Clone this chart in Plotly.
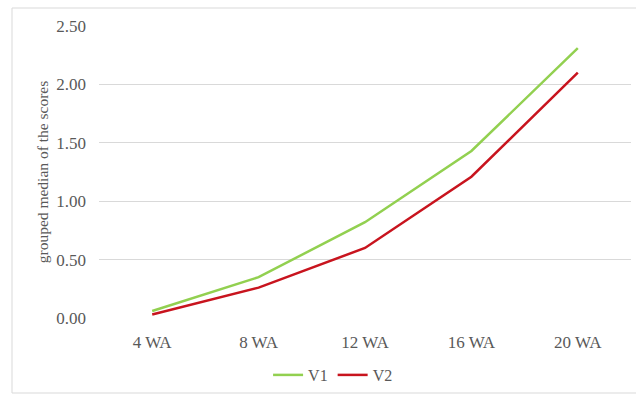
import plotly.graph_objects as go

categories = ["4 WA", "8 WA", "12 WA", "16 WA", "20 WA"]
v1 = [0.06, 0.35, 0.82, 1.43, 2.31]
v2 = [0.03, 0.26, 0.60, 1.21, 2.10]
y_ticks = [0.0, 0.5, 1.0, 1.5, 2.0, 2.5]

serif = "Liberation Serif, Times New Roman, serif"
tick_font = dict(family=serif, size=17, color="#595959")

fig = go.Figure()
fig.add_trace(go.Scatter(x=categories, y=v1, name="V1", mode="lines",
                         line=dict(color="#92D050", width=2.5)))
fig.add_trace(go.Scatter(x=categories, y=v2, name="V2", mode="lines",
                         line=dict(color="#C8141E", width=2.5)))

L, R, T, B = 99, 5, 26, 79
W, H = 636, 397
pw, ph = W - L - R, H - T - B

fig.update_layout(
    width=W, height=H,
    margin=dict(l=L, r=R, t=T, b=B),
    paper_bgcolor="white", plot_bgcolor="white",
    font=tick_font,
    showlegend=True,
    legend=dict(orientation="h", x=0.44, xanchor="center",
                y=-(375 - (H - B)) / ph, yanchor="middle",
                font=dict(family=serif, size=16, color="#595959"),
                itemwidth=30, tracegroupgap=0),
    xaxis=dict(showgrid=False, showline=False, zeroline=False,
               range=[-0.5, 4.5],
               ticks="", ticklabelstandoff=12, tickfont=tick_font),
    yaxis=dict(range=[0, 2.5], tickvals=y_ticks, tickformat=".2f",
               showgrid=True, gridcolor="#D9D9D9", gridwidth=1,
               zeroline=False, showline=False, ticks="",
               ticklabelstandoff=12, tickfont=tick_font,
               title=dict(text="grouped median of the scores",
                          font=dict(family=serif, size=15.5, color="#595959"),
                          standoff=3)),
    shapes=[dict(type="rect", xref="paper", yref="paper",
                 x0=(12 - L) / pw, x1=(W + 4 - L) / pw,
                 y0=-(393 - (H - B)) / ph, y1=1 + (T - 8) / ph,
                 line=dict(color="#D9D9D9", width=1), layer="below")],
)

fig.write_html("out.html")
